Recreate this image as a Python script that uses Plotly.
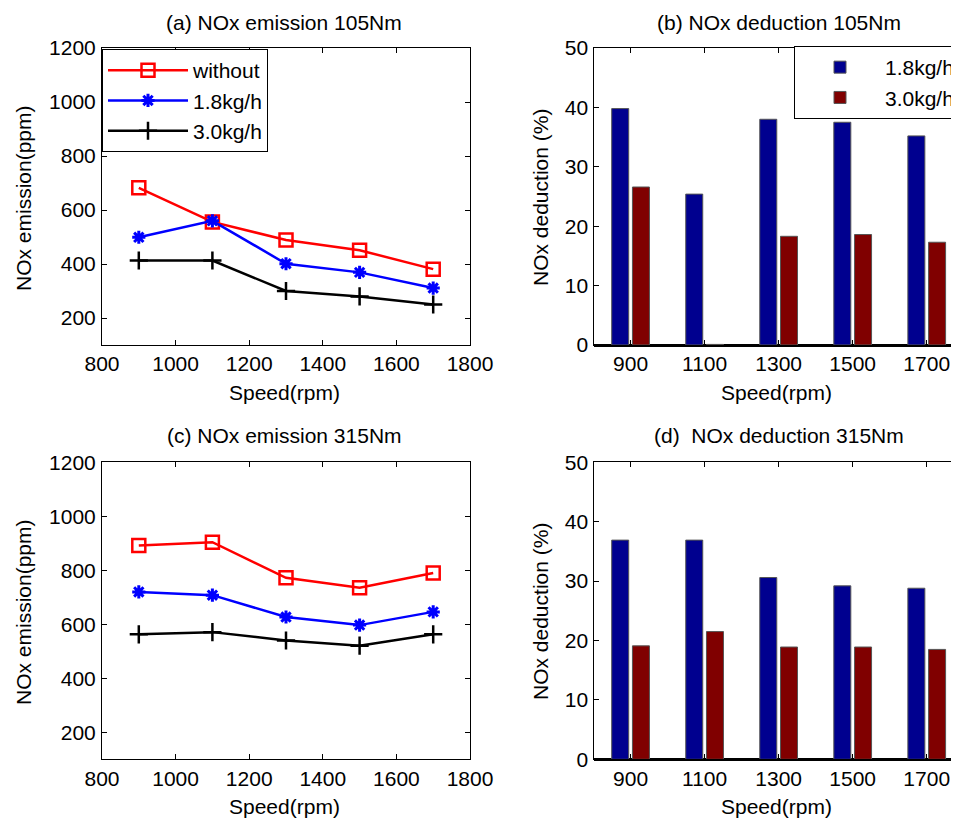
import plotly.graph_objects as go

# the page body has an 8px margin, so the figure is drawn at (8, 8)
OFF = 8
W, H = 959 - OFF, 819 - OFF

speed = [900, 1100, 1300, 1500, 1700]
speed_cat = [str(s) for s in speed]

# (a) NOx emission at 105Nm (ppm)
nox105_without = [682, 556, 489, 451, 381]
nox105_18 = [499, 560, 401, 369, 311]
nox105_30 = [413, 413, 300, 280, 250]

# (c) NOx emission at 315Nm (ppm)
nox315_without = [892, 904, 772, 735, 790]
nox315_18 = [720, 708, 627, 597, 646]
nox315_30 = [563, 571, 540, 521, 563]

# (b) / (d) NOx deduction (%)
ded105_18 = [39.8, 25.4, 38.0, 37.5, 35.2]
ded105_30 = [26.6, 0.1, 18.3, 18.6, 17.3]
ded315_18 = [36.9, 36.9, 30.6, 29.2, 28.8]
ded315_30 = [19.1, 21.5, 18.9, 18.9, 18.5]

FONT = "Liberation Sans, Arial, Helvetica, sans-serif"
RED, BLUE, BLACK = "#ff0000", "#0000ff", "#000000"
BAR_BLUE, BAR_RED = "#00008f", "#800000"


def px_x(p):
    return (p - OFF) / W


def px_y(p):
    return 1 - (p - OFF) / H


fig = go.Figure()

line_sets = [
    ("x", "y", nox105_without, nox105_18, nox105_30, True),
    ("x3", "y3", nox315_without, nox315_18, nox315_30, False),
]
for xa, ya, s0, s1, s2, show in line_sets:
    fig.add_trace(go.Scatter(
        x=speed, y=s0, xaxis=xa, yaxis=ya, name="without", showlegend=show,
        mode="lines+markers", line=dict(color=RED, width=2.5),
        marker=dict(symbol="square-open", size=13, color=RED, line=dict(width=2.5, color=RED))))
    fig.add_trace(go.Scatter(
        x=speed, y=s1, xaxis=xa, yaxis=ya, name="1.8kg/h", showlegend=show,
        mode="lines+markers", line=dict(color=BLUE, width=2.5),
        marker=dict(symbol="asterisk-open", size=11, color=BLUE, line=dict(width=3, color=BLUE))))
    fig.add_trace(go.Scatter(
        x=speed, y=s2, xaxis=xa, yaxis=ya, name="3.0kg/h", showlegend=show,
        mode="lines+markers", line=dict(color=BLACK, width=2.5),
        marker=dict(symbol="cross-thin-open", size=13, color=BLACK, line=dict(width=2.5, color=BLACK))))

bar_sets = [
    ("x2", "y2", ded105_18, ded105_30, True),
    ("x4", "y4", ded315_18, ded315_30, False),
]
for xa, ya, b1, b2, show in bar_sets:
    fig.add_trace(go.Bar(
        x=speed_cat, y=b1, xaxis=xa, yaxis=ya, name="1.8kg/h", showlegend=show,
        legend="legend2", marker=dict(color=BAR_BLUE, line=dict(color="#555555", width=1))))
    fig.add_trace(go.Bar(
        x=speed_cat, y=b2, xaxis=xa, yaxis=ya, name="3.0kg/h", showlegend=show,
        legend="legend2", marker=dict(color=BAR_RED, line=dict(color="#555555", width=1))))

tick_font = dict(family=FONT, size=21, color="black")
common = dict(showline=True, linecolor="black", linewidth=1, ticks="inside",
              ticklen=5, tickcolor="black", showgrid=False, zeroline=False,
              tickfont=tick_font, automargin=False)

left_dom = [px_x(102), px_x(470)]
right_dom = [px_x(594.3), 1.0]
top_dom = [px_y(345), px_y(48)]
bot_dom = [px_y(759.3), px_y(462.3)]

line_x = dict(common, range=[800, 1800], dtick=200, tick0=800, mirror="ticks",
              ticklabelstandoff=0)
line_y = dict(common, range=[100, 1200], tickvals=[200, 400, 600, 800, 1000, 1200],
              mirror="ticks", ticklabelstandoff=1)
bar_x = dict(common, type="category", range=[-0.49, 4.436], mirror="ticks",
             ticklabelstandoff=0)
bar_y = dict(common, range=[0, 50], dtick=10, ticklabelstandoff=1,
             zeroline=True, zerolinecolor="black", zerolinewidth=3)

fig.update_layout(
    width=W, height=H,
    margin=dict(l=0, r=0, t=0, b=0, autoexpand=False),
    paper_bgcolor="white", plot_bgcolor="white",
    font=dict(family=FONT, size=20, color="black"),
    barmode="group", bargap=0.44, bargroupgap=0.18,
    xaxis=dict(line_x, domain=left_dom, anchor="y"),
    yaxis=dict(line_y, domain=top_dom, anchor="x"),
    xaxis2=dict(bar_x, domain=right_dom, anchor="y2"),
    yaxis2=dict(bar_y, domain=top_dom, anchor="x2"),
    xaxis3=dict(line_x, domain=left_dom, anchor="y3"),
    yaxis3=dict(line_y, domain=bot_dom, anchor="x3"),
    xaxis4=dict(bar_x, domain=right_dom, anchor="y4"),
    yaxis4=dict(bar_y, domain=bot_dom, anchor="x4"),
    legend=dict(x=px_x(102), y=px_y(49), xanchor="left", yanchor="top",
                bgcolor="white", bordercolor="black", borderwidth=1,
                font=dict(family=FONT, size=21), itemwidth=80,
                tracegroupgap=0),
    legend2=dict(x=px_x(794), y=px_y(46), xanchor="left", yanchor="top",
                 bgcolor="white", bordercolor="black", borderwidth=1,
                 font=dict(family=FONT, size=21), itemwidth=80,
                 traceorder="normal"),
)

texts = [
    ("(a) NOx emission 105Nm", 284, 22, 0),
    ("(b) NOx deduction 105Nm", 779, 22, 0),
    ("(c) NOx emission 315Nm", 284, 436, 0),
    ("(d)  NOx deduction 315Nm", 779, 436, 0),
    ("Speed(rpm)", 284, 392, 0),
    ("Speed(rpm)", 776, 392, 0),
    ("Speed(rpm)", 284, 806, 0),
    ("Speed(rpm)", 776, 806, 0),
    ("NOx emission(ppm)", 23, 198, -90),
    ("NOx emission(ppm)", 23, 612, -90),
    ("NOx deduction (%)", 540, 198, -90),
    ("NOx deduction (%)", 540, 612, -90),
]
for t, x, y, ang in texts:
    fig.add_annotation(text=t, x=px_x(x), y=px_y(y), xref="paper", yref="paper",
                       xanchor="center", yanchor="middle", showarrow=False,
                       textangle=ang, font=dict(family=FONT, size=21, color="black"))

fig.write_html("out.html")
